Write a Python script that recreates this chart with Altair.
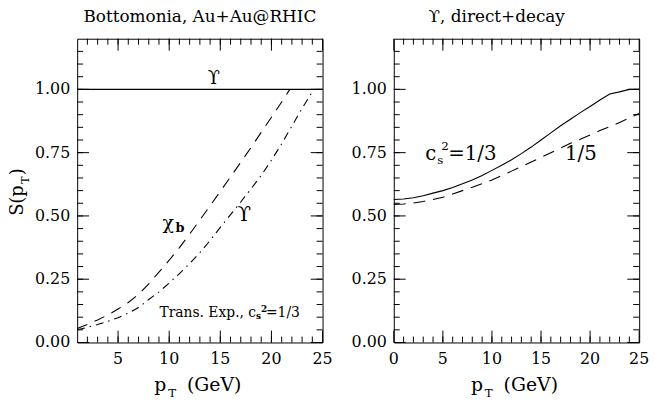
import altair as alt
import pandas as pd

FONT = "DejaVu Serif"
W, H = 248, 307

# ---------------- data ----------------
# Left panel: Bottomonia, Au+Au@RHIC
ups_solid_x = [1, 25]
ups_solid_y = [1.0, 1.0]

chib_x = [1, 2, 3, 4, 5, 6, 7, 8, 9, 10, 11, 12, 13, 14, 15, 16, 17, 18, 19, 20, 21, 21.8]
chib_y = [0.055, 0.071, 0.089, 0.109, 0.132, 0.158, 0.19, 0.232, 0.278, 0.325, 0.375, 0.428,
          0.484, 0.54, 0.597, 0.654, 0.712, 0.77, 0.83, 0.89, 0.95, 1.0]

ups_dd_x = [1, 2, 3, 4, 5, 6, 7, 8, 9, 10, 11, 12, 13, 14, 15, 16, 17, 18, 19, 20, 21, 22, 23, 24, 24.2]
ups_dd_y = [0.05, 0.06, 0.071, 0.083, 0.098, 0.116, 0.138, 0.17, 0.2, 0.235, 0.272, 0.312,
            0.355, 0.403, 0.455, 0.505, 0.555, 0.607, 0.66, 0.72, 0.785, 0.855, 0.925, 0.99, 1.0]

# Right panel: Upsilon, direct+decay
cs13_x = [0, 1, 2, 3, 4, 5, 6, 7, 8, 9, 10, 11, 12, 13, 14, 15, 16, 17, 18, 19, 20, 21, 22, 23, 24, 25]
cs13_y = [0.565, 0.567, 0.572, 0.58, 0.59, 0.60, 0.612, 0.627, 0.642, 0.66, 0.68, 0.70, 0.722,
          0.746, 0.772, 0.80, 0.828, 0.856, 0.882, 0.908, 0.932, 0.958, 0.982, 0.99, 1.0, 1.0]

cs15_x = [0, 1, 2, 3, 4, 5, 6, 7, 8, 9, 10, 11, 12, 13, 14, 15, 16, 17, 18, 19, 20, 21, 22, 23, 24, 25]
cs15_y = [0.545, 0.547, 0.551, 0.557, 0.565, 0.574, 0.587, 0.60, 0.613, 0.627, 0.642, 0.659,
          0.677, 0.695, 0.713, 0.731, 0.75, 0.768, 0.787, 0.803, 0.82, 0.837, 0.853, 0.869,
          0.887, 0.905]

left_domain = [1, 25]
right_domain = [0, 25]
y_domain = [0, 1.2]
left_major = [5, 10, 15, 20, 25]
right_major = [0, 5, 10, 15, 20, 25]
left_minor = list(range(2, 25))
right_minor = list(range(1, 25))
y_major = [0, 0.25, 0.5, 0.75, 1.0]
y_labels = ["0.00", "0.25", "0.50", "0.75", "1.00"]
y_minor = [round(0.05 * i, 2) for i in range(1, 24)]

MAJ_PX, MIN_PX = 12, 6


def sx(xdom):
    return alt.Scale(domain=xdom, nice=False, zero=False)


def sy():
    return alt.Scale(domain=y_domain, nice=False, zero=False)


def enc(xdom):
    return dict(x=alt.X("x:Q", scale=sx(xdom), axis=None),
                y=alt.Y("y:Q", scale=sy(), axis=None))


def line(xs, ys, dash, xdom):
    df = pd.DataFrame({"x": xs, "y": ys})
    kw = {"strokeDash": dash} if dash else {}
    return alt.Chart(df).mark_line(color="black", strokeWidth=1.1, **kw).encode(**enc(xdom))


def tick_layer(xdom, xmajor, xminor):
    x0, x1 = xdom
    xu = (x1 - x0) / W          # data units per pixel along x
    yu = (y_domain[1] - y_domain[0]) / H
    rows = []
    for vals, px in [(xmajor, MAJ_PX), (xminor, MIN_PX)]:
        for v in vals:
            rows.append({"x": v, "x2": v, "y": 0, "y2": px * yu})
            rows.append({"x": v, "x2": v, "y": y_domain[1], "y2": y_domain[1] - px * yu})
    for vals, px in [(y_major, MAJ_PX), (y_minor, MIN_PX)]:
        for v in vals:
            rows.append({"x": x0, "x2": x0 + px * xu, "y": v, "y2": v})
            rows.append({"x": x1, "x2": x1 - px * xu, "y": v, "y2": v})
    tdf = pd.DataFrame(rows)
    return alt.Chart(tdf).mark_rule(color="black", strokeWidth=1).encode(
        x2="x2:Q", y2="y2:Q", **enc(xdom))


def label_layers(xdom, xmajor):
    xdf = pd.DataFrame({"x": xmajor, "y": [0] * len(xmajor), "t": [str(v) for v in xmajor]})
    ydf = pd.DataFrame({"x": [xdom[0]] * len(y_major), "y": y_major, "t": y_labels})
    return [
        alt.Chart(xdf).mark_text(font=FONT, fontSize=16, align="center", baseline="top",
                                 dy=9, color="black").encode(text="t:N", **enc(xdom)),
        alt.Chart(ydf).mark_text(font=FONT, fontSize=16, align="right", baseline="middle",
                                 dx=-7, color="black").encode(text="t:N", **enc(xdom)),
    ]


def texts(items, xdom):
    out = []
    for (x, y, t, size, align, base, dx, dy, weight) in items:
        df = pd.DataFrame({"x": [x], "y": [y], "t": [t]})
        out.append(alt.Chart(df).mark_text(font=FONT, fontSize=size, align=align,
                                           baseline=base, dx=dx, dy=dy, color="black",
                                           fontWeight=weight).encode(text="t:N", **enc(xdom)))
    return out


def pix_text(t, x, y, size, align="left", base="alphabetic", angle=0):
    return alt.Chart(pd.DataFrame({"k": [0]})).mark_text(
        font=FONT, fontSize=size, align=align, baseline=base, angle=angle, color="black"
    ).encode(x=alt.value(x), y=alt.value(y), text=alt.value(t))


def x_title():
    return [pix_text("p", 78, 356, 19), pix_text("T", 92, 362, 12),
            pix_text("(GeV)", 111, 356, 19)]


# ---------------- left panel ----------------
left_layers = [
    line(ups_solid_x, ups_solid_y, None, left_domain),
    tick_layer(left_domain, left_major, left_minor),
    line(chib_x, chib_y, [11, 8], left_domain),
    line(ups_dd_x, ups_dd_y, [8, 5, 1.5, 5], left_domain),
]
left_layers += label_layers(left_domain, left_major)
left_layers += texts([
    (14.36, 1.039, "ϒ", 18, "center", "middle", 0, 0, "normal"),
    (9.9, 0.473, "χ", 19, "center", "middle", 0, 0, "normal"),
    (11.05, 0.465, "b", 13, "center", "middle", 0, 3, "bold"),
    (17.34, 0.502, "ϒ", 20, "center", "middle", 0, 0, "normal"),
    (18.5, 0.10, "Trans. Exp., c", 14, "right", "alphabetic", 0, 0, "normal"),
    (18.5, 0.10, "s", 9, "left", "alphabetic", 0, 2, "bold"),
    (18.5, 0.10, "2", 9, "left", "alphabetic", 5, -5, "bold"),
    (18.5, 0.10, "=1/3", 14, "left", "alphabetic", 10, 0, "normal"),
], left_domain)
left_layers += x_title()
left_layers += [
    pix_text("Bottomonia, Au+Au@RHIC", W / 2, -17, 17, align="center"),
    pix_text("S(p", -60, 179, 18, align="left", base="middle", angle=270),
    pix_text("T", -52, 143, 11, align="center", base="middle", angle=270),
    pix_text(")", -60, 138, 18, align="left", base="middle", angle=270),
]
left = alt.layer(*left_layers).properties(width=W, height=H)

# ---------------- right panel ----------------
right_layers = [
    line(cs13_x, cs13_y, None, right_domain),
    tick_layer(right_domain, right_major, right_minor),
    line(cs15_x, cs15_y, [12, 8], right_domain),
]
right_layers += label_layers(right_domain, right_major)
right_layers += texts([
    (4.33, 0.72, "c", 20, "right", "alphabetic", 0, 0, "normal"),
    (4.33, 0.72, "s", 12, "left", "alphabetic", 1, 4, "normal"),
    (4.33, 0.72, "2", 12, "left", "alphabetic", 5, -10, "normal"),
    (4.33, 0.72, "=1/3", 20, "left", "alphabetic", 12, 0, "normal"),
    (17.44, 0.72, "1/5", 20, "left", "alphabetic", 0, 0, "normal"),
], right_domain)
right_layers += x_title()
right_layers += [pix_text("ϒ, direct+decay", W / 2 - 20, -17, 17, align="center")]
right = alt.layer(*right_layers).properties(width=W, height=H)

chart = alt.hconcat(left, right, spacing=72, bounds="flush").properties(
    padding={"left": 8, "top": 5, "right": 5, "bottom": 0},
    background="white",
).configure_view(stroke="black", strokeWidth=1)

chart.save("out.html", embed_options={"renderer": "svg", "actions": False})
